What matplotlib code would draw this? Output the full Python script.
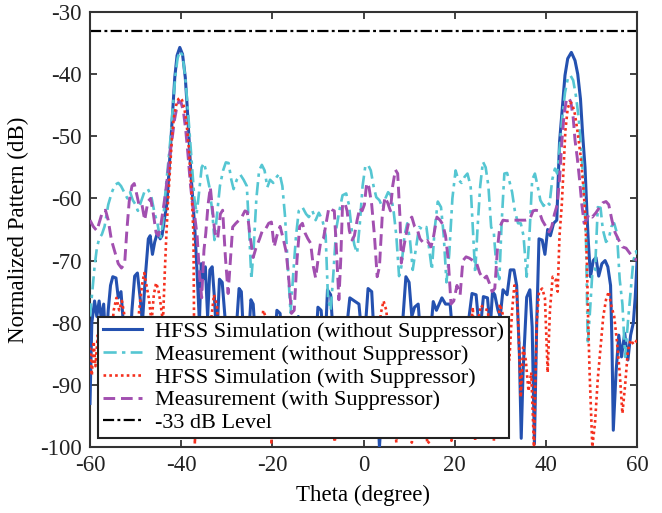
import matplotlib
matplotlib.use("Agg")
import matplotlib.pyplot as plt

# Each series is a list of (theta in degrees, normalized level in dB) samples.

# HFSS simulation, without suppressor
sim_without = [
    (-60, -93), (-59.6, -80), (-59, -76.5), (-58.5, -79), (-58, -76.5), (-57.5, -79.5),
    (-57, -77), (-56.5, -84), (-56, -78), (-55.5, -74), (-55, -72.6), (-54.3, -72.8),
    (-53.8, -76), (-53.2, -75), (-52.5, -82), (-51.5, -88), (-50.8, -78), (-50.2, -72.5),
    (-49.6, -72), (-49, -76), (-48.5, -80), (-47.8, -72), (-47.2, -66.5), (-46.8, -66),
    (-46.3, -69), (-45.8, -67), (-45.2, -65.5), (-44.6, -66.5), (-44.2, -66), (-43.6, -63),
    (-43.1, -60.7), (-42.7, -56), (-42.2, -50), (-41.8, -45.5), (-41.4, -40.5), (-40.9, -37),
    (-40.3, -35.7), (-39.7, -36.8), (-39.1, -40.5), (-38.7, -45), (-38.3, -50), (-37.9, -55.5),
    (-37.4, -60.7), (-37, -65), (-36.5, -72), (-36, -80), (-35.6, -70.5), (-35.2, -73),
    (-34.7, -71), (-34.2, -79), (-33.7, -71.5), (-33.2, -71), (-32.7, -76), (-32.2, -83),
    (-31.6, -73), (-31, -73.5), (-30.4, -79), (-29.6, -84), (-29, -85), (-28, -82),
    (-27.3, -74.5), (-26.8, -75), (-26.2, -84), (-25.5, -86), (-24.7, -76.3), (-24.2, -77),
    (-23.5, -85), (-22, -90), (-20, -88), (-19, -78), (-18.3, -78.5), (-17.5, -86),
    (-16, -88), (-14.3, -79), (-13.5, -85), (-11, -90), (-10, -77.5), (-9.3, -78),
    (-8.5, -85), (-7.9, -74.7), (-7.2, -75.5), (-6.5, -84), (-5, -90), (-3, -76),
    (-2, -76.5), (-1, -77), (0, -85), (1, -74.5), (1.8, -75), (2.6, -86),
    (3.5, -100), (4.5, -88), (6, -92), (8, -86), (9.3, -72.6), (10, -73.5),
    (10.6, -79), (11.2, -77.5), (12, -77), (12.8, -85), (14, -88), (15.3, -76.6),
    (16, -78), (17.2, -76), (18, -77), (19, -77), (19.8, -84), (21, -88),
    (23, -80), (23.8, -75.3), (24.7, -75.5), (25.5, -82), (26.3, -75.8), (27.2, -76),
    (27.8, -81), (28.3, -75), (28.8, -75.5), (29.5, -78), (30, -79), (30.6, -74.7),
    (31.5, -75.5), (32.2, -71.5), (33, -71.5), (33.6, -74), (34.2, -85), (34.6, -98.6),
    (35, -88), (35.8, -75.9), (36.5, -74.7), (37, -80.7), (37.5, -99.5), (38, -80),
    (38.5, -66.5), (39.2, -66.7), (39.8, -69), (40.4, -65), (41, -66), (41.7, -64),
    (42.4, -63.5), (43, -51), (43.6, -45.5), (44.2, -40.2), (44.8, -37.5), (45.6, -36.5),
    (46.4, -37.8), (47, -40), (47.6, -44), (48.1, -50), (48.6, -55), (49, -62),
    (49.3, -66.7), (49.8, -72.6), (50.4, -70), (51, -69.5), (51.6, -72.5), (52.3, -70.5),
    (53, -70), (53.6, -71), (54.2, -74), (54.5, -83), (54.8, -97.3), (55.4, -88),
    (56, -82), (56.6, -85.5), (57.3, -81.7), (58, -86), (58.6, -82), (59.2, -80),
    (59.6, -76), (60, -70.4),
]

# Measurement, without suppressor
meas_without = [
    (-60, -79), (-59.5, -75), (-59, -71), (-58.5, -68), (-58, -66.5), (-57.4, -65.8),
    (-56.8, -64.5), (-56, -61), (-55.2, -59), (-54.5, -57.8), (-53.8, -57.5), (-53.2, -58),
    (-52.5, -59), (-51.8, -60), (-51.2, -59), (-50.6, -60.3), (-50, -61), (-49.5, -62),
    (-48.8, -60.5), (-48, -58.8), (-47.3, -58.5), (-46.6, -59.5), (-45.8, -62.5), (-45.2, -64),
    (-44.6, -66.7), (-44, -64), (-43.4, -58.5), (-42.8, -54), (-42.3, -50), (-41.8, -45),
    (-41.3, -40.5), (-40.8, -37.5), (-40.3, -36.3), (-39.7, -37), (-39.1, -40.5), (-38.6, -45),
    (-38.1, -50), (-37.6, -55), (-37.1, -60), (-36.6, -62.5), (-36, -58.5), (-35.5, -55),
    (-35, -54.3), (-34.4, -56), (-33.8, -58.2), (-33.2, -62), (-32.7, -66.7), (-32.2, -63),
    (-31.5, -58), (-30.8, -55.5), (-30.2, -54.2), (-29.6, -54.3), (-29, -57), (-28.5, -58.5),
    (-27.8, -57), (-27, -56.2), (-26.3, -57), (-25.6, -58), (-25.1, -65), (-24.6, -73),
    (-24.1, -68), (-23.5, -60), (-22.9, -55.5), (-22.3, -54.6), (-21.7, -55.5), (-21.1, -58.2),
    (-20.5, -57), (-19.8, -57.5), (-19, -56.5), (-18.4, -56), (-17.8, -58), (-17.2, -63),
    (-16.6, -71), (-16, -78.4), (-15.4, -72), (-14.8, -66), (-14.2, -62), (-13.4, -61.4),
    (-12.6, -62.5), (-12, -63), (-11.2, -62), (-10.5, -63.5), (-9.8, -62.3), (-9, -63.5),
    (-8.3, -66), (-7.8, -76), (-7.2, -78), (-6.6, -72), (-6, -65), (-5.3, -62),
    (-4.6, -59.5), (-3.8, -59.2), (-3.2, -61), (-2.6, -65), (-2, -67.5), (-1.4, -68.8),
    (-0.8, -64), (-0.2, -58), (0.4, -54.8), (1, -54.6), (1.6, -55.5), (2.2, -58),
    (2.8, -59.8), (3.5, -60.3), (4.2, -61.5), (4.8, -60), (5.4, -59), (6, -59.5),
    (6.6, -62), (7.2, -66), (7.8, -72.5), (8.3, -71), (9, -66), (9.6, -64),
    (10.2, -66.7), (10.8, -71.5), (11.5, -68), (12.2, -64.6), (13, -65), (13.8, -64.6),
    (14.4, -68), (15, -71.5), (15.6, -65), (16.3, -60.5), (17, -61.4), (17.6, -66),
    (18.2, -73.5), (18.8, -69), (19.5, -60), (20.2, -55.5), (20.8, -57), (21.5, -57.5),
    (22.2, -56.5), (22.8, -56), (23.5, -58), (24, -65), (24.5, -72), (25, -65),
    (25.6, -58), (26.2, -54.1), (26.8, -55), (27.4, -58), (28, -64.6), (28.6, -65.6),
    (29.2, -71.5), (29.8, -73), (30.3, -64), (30.9, -56), (31.5, -55.9), (32.1, -57.5),
    (32.6, -59), (33.2, -62), (33.9, -64), (34.5, -64), (35.1, -66), (35.8, -72.6),
    (36.4, -66), (37, -57), (37.6, -56), (38.2, -58), (38.8, -60.3), (39.5, -61.2),
    (40.2, -60.5), (40.8, -61), (41.4, -57), (42, -55.2), (42.5, -56), (43, -52),
    (43.6, -47), (44.2, -43), (44.8, -40.8), (45.4, -40.2), (46, -41), (46.6, -43.5),
    (47.2, -47), (47.8, -52.5), (48.3, -58), (48.8, -66), (49.2, -83.5), (49.7, -78),
    (50.2, -72), (50.8, -71.5), (51.4, -61.4), (52, -61.5), (52.5, -65), (53.2, -67),
    (53.8, -66.5), (54.4, -64.5), (55, -64), (55.6, -65.6), (56.2, -73), (56.8, -77),
    (57.4, -85.5), (58, -80), (58.6, -75), (59.2, -70), (59.8, -68.5), (60, -69),
]

# HFSS simulation, with suppressor
sim_with = [
    (-60, -84), (-59.6, -88.5), (-59.2, -83), (-58.8, -87), (-58.3, -82), (-57.5, -90),
    (-56.5, -86), (-55.5, -84), (-54.8, -78), (-54.2, -76), (-53.6, -78), (-53, -76.5),
    (-52.4, -79), (-51.8, -85), (-51, -90), (-50, -84), (-49.2, -78), (-48.6, -74),
    (-48.1, -72), (-47.6, -74), (-47, -76.5), (-46.5, -80), (-46, -75.5), (-45.5, -73.6),
    (-45, -74.7), (-44.5, -77), (-44, -80), (-43.6, -72), (-43.2, -65), (-42.9, -60.7),
    (-42.5, -56), (-42, -50), (-41.6, -47), (-41.1, -45), (-40.6, -44), (-40.2, -43.8),
    (-39.8, -44.2), (-39.3, -45.5), (-38.8, -48), (-38.3, -52), (-37.9, -57), (-37.6, -60.7),
    (-37.3, -66), (-37, -99.5), (-36.5, -88), (-35.5, -92), (-34.5, -86), (-33.5, -80),
    (-32.8, -75.5), (-32.2, -77), (-31.5, -84), (-30.5, -90), (-29, -88), (-27.5, -92),
    (-26, -86), (-24, -90), (-22.5, -82), (-22, -78), (-21.5, -79), (-20.8, -86),
    (-20.2, -99.3), (-19.6, -90), (-18, -86), (-16, -92), (-14, -88), (-12, -90),
    (-10, -86), (-8, -91), (-6.3, -99.2), (-5, -88), (-3.2, -82), (-2.5, -78.8),
    (-1.8, -82), (0, -88), (1.5, -90), (3, -85), (3.8, -78.5), (4.4, -76.5),
    (5, -78), (5.6, -83), (6.4, -90), (7.2, -99.3), (8, -90), (9.5, -86),
    (10.6, -99.3), (11.6, -88), (13, -90), (14, -99.5), (14.8, -98.8), (16, -88),
    (17.5, -84), (18.8, -90), (19.3, -99), (20, -90), (21.5, -86), (23, -84),
    (24, -77.5), (24.5, -99), (25, -80), (25.8, -77.2), (26.6, -77.8), (27.3, -78),
    (27.8, -84), (28.6, -99), (29.3, -84), (29.9, -77), (30.5, -78.5), (31.2, -84),
    (32, -86), (32.6, -78), (33.1, -74), (33.6, -75), (34, -81), (34.5, -92),
    (35, -84), (35.6, -86), (36.2, -91), (36.8, -88), (37.4, -100), (38, -80),
    (38.5, -75), (39.2, -74.5), (39.8, -76), (40.4, -88), (40.9, -78), (41.5, -72.6),
    (42.1, -73), (42.6, -75), (43, -66), (43.5, -61), (43.9, -55), (44.3, -49),
    (44.8, -45.5), (45.3, -44.5), (45.8, -44.8), (46.4, -46.5), (47, -49.5), (47.6, -53),
    (48.1, -57), (48.6, -62), (49, -70), (49.3, -80), (49.6, -88), (50.2, -100),
    (50.8, -96), (51.4, -89), (52, -84), (52.6, -79), (53.2, -76.3), (53.8, -75),
    (54.4, -77.4), (55, -79), (55.6, -83), (56.2, -88), (56.8, -94.6), (57.4, -90),
    (58, -84.5), (58.6, -82.8), (59.3, -83.5), (60, -82.8),
]

# Measurement, with suppressor
meas_with = [
    (-60, -63.5), (-59.3, -64.5), (-58.5, -65.2), (-57.8, -63.5), (-57.2, -62), (-56.6, -61.9),
    (-56, -63.5), (-55.3, -66.7), (-54.6, -68.5), (-53.8, -70.5), (-53.1, -71.2), (-52.4, -70.5),
    (-51.9, -65), (-51.4, -60.5), (-50.8, -58), (-50.3, -57.6), (-49.7, -59.5), (-49.2, -61.2),
    (-48.6, -61), (-48, -63.5), (-47.3, -60.5), (-46.7, -60), (-46.1, -62.5), (-45.5, -65.5),
    (-45, -66), (-44.5, -64.5), (-44, -62), (-43.5, -59.5), (-43, -56.5), (-42.5, -53),
    (-42, -50.5), (-41.5, -47.5), (-41, -45.5), (-40.5, -44.3), (-40, -44.6), (-39.5, -46),
    (-39, -49), (-38.5, -53), (-38, -57.5), (-37.5, -61), (-37, -63), (-36.5, -66),
    (-36, -72), (-35.5, -76), (-35, -68.3), (-34.6, -65.6), (-34.1, -61), (-33.6, -58.2),
    (-33.1, -62), (-32.6, -65.6), (-32, -66.5), (-31.4, -62.5), (-30.9, -61.9), (-30.3, -69.4),
    (-29.7, -75.3), (-29.2, -70), (-28.7, -64.6), (-28, -64), (-27.3, -63.5), (-26.7, -63),
    (-26, -62), (-25.5, -62.2), (-24.9, -66), (-24.2, -69.5), (-23.6, -68), (-22.8, -66.5),
    (-22.1, -65), (-21.4, -64.8), (-20.8, -64), (-20.2, -63.8), (-19.6, -67.8), (-19, -66),
    (-18.3, -64.5), (-17.6, -66.5), (-17, -68.5), (-16.5, -72), (-15.8, -78.5), (-15.2, -78),
    (-14.6, -70), (-14, -64.5), (-13.4, -64), (-12.8, -65.6), (-12.2, -66.5), (-11.6, -67.2),
    (-11, -71), (-10.5, -72.8), (-10, -70), (-9.4, -67), (-8.8, -66.5), (-8.2, -64),
    (-7.6, -61.5), (-7, -61.8), (-6.4, -62), (-5.9, -68.8), (-5.4, -76.3), (-5, -70),
    (-4.6, -61), (-4.1, -60.7), (-3.6, -62), (-3.1, -65.2), (-2.5, -66.7), (-2, -66),
    (-1.4, -63.5), (-0.8, -61.5), (-0.3, -62), (0.2, -61), (0.7, -57.5), (1.2, -58.2),
    (1.8, -61), (2.4, -66), (3, -72.6), (3.5, -71), (4.1, -63), (4.7, -59.8),
    (5.3, -60.7), (5.9, -62), (6.4, -58), (7, -55.4), (7.5, -56), (8, -63),
    (8.3, -70.4), (8.8, -68), (9.3, -66), (10, -63.5), (10.6, -63), (11.2, -64.5),
    (11.8, -65), (12.4, -66.5), (13.2, -67.2), (14, -66.8), (14.8, -67.8), (15.4, -66),
    (16.1, -63), (16.8, -63.5), (17.4, -64.2), (18, -66), (18.6, -70), (19.2, -77),
    (19.8, -76.5), (20.5, -74), (21.2, -75.5), (21.8, -70), (22.5, -69.4), (23.2, -69.6),
    (24, -70), (24.8, -70.4), (25.5, -72), (26.3, -73), (27, -72.5), (27.6, -73.6),
    (28.2, -75), (28.8, -74.5), (29.4, -68), (29.9, -64.6), (30.6, -63.5), (31.5, -63.6),
    (32.5, -63.5), (33.5, -63.5), (34.5, -63.5), (35.5, -63.5), (36.5, -63.3), (37.2, -62),
    (37.8, -61.9), (38.5, -62), (39.2, -63.5), (40, -64.5), (40.7, -65.4), (41.3, -64.5),
    (41.9, -62.5), (42.5, -61), (43, -57), (43.5, -51), (44, -46.5), (44.5, -44.2),
    (45, -43.8), (45.5, -44.5), (46, -47), (46.4, -50.6), (46.9, -53.5), (47.4, -57),
    (47.9, -61), (48.4, -64), (48.9, -63.5), (49.5, -62.5), (50.2, -63), (51, -62.3),
    (51.8, -61.4), (52.5, -60.7), (53.2, -60.5), (53.8, -61), (54.5, -63.5), (55.2, -65.5),
    (56, -66.7), (56.8, -67.8), (57.6, -68), (58.4, -68.8), (59.2, -69.5), (60, -70),
]

# Reference level
level_ref = -33.0

series_labels = ["HFSS Simulation (without Suppressor)",
                 "Measurement (without Suppressor)",
                 "HFSS Simulation (with Suppressor)",
                 "Measurement (with Suppressor)"]
ref_label = "-33 dB Level"

plt.rcParams["font.family"] = ["Liberation Serif", "DejaVu Serif"]
plt.rcParams["axes.unicode_minus"] = False

fig = plt.figure(figsize=(6.62, 5.13), dpi=100)
ax = fig.add_axes([90 / 662, 1 - 447 / 513, 547 / 662, 435 / 513])

styles = [
    dict(color="#2451b0", lw=2.2, ls="-", zorder=3),
    dict(color="#55c6d2", lw=1.9, ls=(0, (5, 2, 1.3, 2)), zorder=4),
    dict(color="#f5301e", lw=1.9, ls=(0, (1, 1.2)), zorder=6),
    dict(color="#a24fb0", lw=2.1, ls=(0, (4, 2)), zorder=5),
]
for pts, lab, st in zip([sim_without, meas_without, sim_with, meas_with], series_labels, styles):
    th, lv = zip(*pts)
    ax.plot(th, lv, label=lab, **st)

ax.axhline(level_ref, color="black", lw=1.6, ls=(0, (5, 1.5, 1.3, 1.5)),
           label=ref_label, zorder=2)

ax.set_xlim(-60, 60)
ax.set_ylim(-100, -30)
ax.set_xticks(range(-60, 61, 20))
ax.set_yticks(range(-100, -29, 10))
ax.tick_params(direction="in", top=True, right=True, length=5, width=1.2,
               labelsize=16.5, colors="#222222", pad=6)
for s in ax.spines.values():
    s.set_linewidth(1.5)
    s.set_color("#333333")

ax.set_xlabel("Theta (degree)", fontsize=16.5, labelpad=6)
ax.set_ylabel("Normalized Pattern (dB)", fontsize=16.5, labelpad=8)

leg = ax.legend(loc="lower left", bbox_to_anchor=(8 / 547, 9 / 435),
                borderaxespad=0, fontsize=16, handlelength=1.75, handletextpad=0.6,
                labelspacing=0.1, borderpad=0.22, fancybox=False, framealpha=1)
leg.get_frame().set_edgecolor("#222222")
leg.get_frame().set_linewidth(1.5)
leg.set_zorder(10)

fig.savefig("out.png", dpi=100)
